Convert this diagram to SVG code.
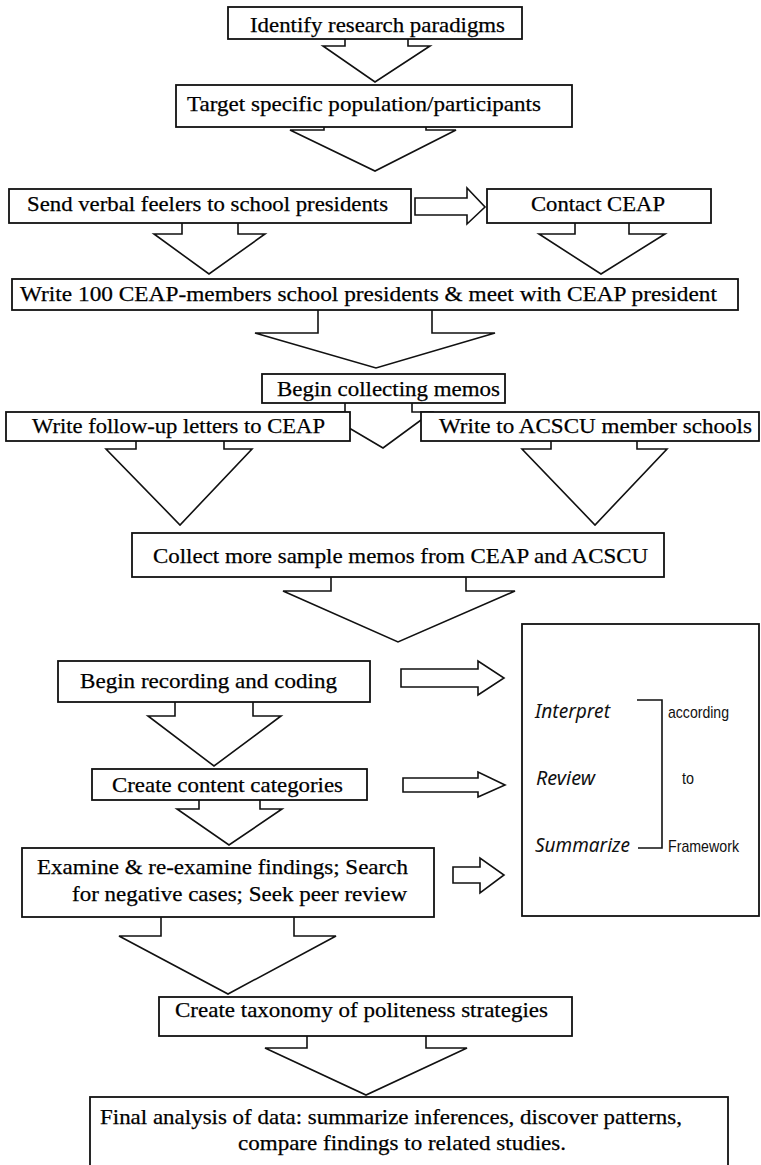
<svg xmlns="http://www.w3.org/2000/svg" width="761" height="1165" viewBox="0 0 761 1165">
<style>
.box{fill:#fff;stroke:#111;stroke-width:1.8}
.arr{fill:none;stroke:#111;stroke-width:1.6;stroke-linejoin:miter}
.t{font-family:"Liberation Serif","Times New Roman",serif;font-size:22px;fill:#000;stroke:#000;stroke-width:0.25}
.it{font-family:"Noto Sans","Liberation Sans",sans-serif;font-style:italic;font-size:19px;fill:#111}
.sn{font-family:"Liberation Sans",Arial,sans-serif;font-size:17px;fill:#111}
</style>
<rect width="761" height="1165" fill="#fff"/>
<g id="connectors">
<path class="arr" d="M345,39 V46 H323 L375,82 L430,46 H408 V39"/>
<path class="arr" d="M324,127 V130 H290 L375,171 L456,130 H426 V127"/>
<path class="arr" d="M415,198 H467 V188 L485,207 L467,224 V215 H415 Z"/>
<path class="arr" d="M182,223 V234 H154 L209,274 L265,234 H238 V223"/>
<path class="arr" d="M575,223 V234 H539 L601,274 L665,234 H629 V223"/>
<path class="arr" d="M318,310 V333 H255 L376,368 L495,333 H432 V310"/>
<path class="arr" d="M345,403 V412 H322 L383,448 L432,412 H412 V403"/>
<path class="arr" d="M136,441 V449 H106 L180,525 L252,449 H224 V441"/>
<path class="arr" d="M551,441 V449 H522 L595,525 L667,449 H637 V441"/>
<path class="arr" d="M331,577 V591 H283 L398,642 L515,591 H466 V577"/>
<path class="arr" d="M401,669 H478 V661 L504,678 L478,695 V687 H401 Z"/>
<path class="arr" d="M175,702 V716 H148 L214,766 L281,716 H253 V702"/>
<path class="arr" d="M403,778 H478 V772 L505,785 L478,797 V792 H403 Z"/>
<path class="arr" d="M199,800 V809 H177 L229,845 L282,809 H260 V800"/>
<path class="arr" d="M453,867 H480 V858 L504,875 L480,893 V883 H453 Z"/>
<path class="arr" d="M161,917 V936 H119 L228,994 L336,936 H294 V917"/>
<path class="arr" d="M307,1036 V1048 H265 L366,1095 L467,1048 H426 V1036"/>
</g>
<g id="n1"><rect class="box" x="228" y="7" width="294" height="32"/><text class="t" x="250" y="32" font-size="23" textLength="255" lengthAdjust="spacingAndGlyphs">Identify research paradigms</text></g>
<g id="n2"><rect class="box" x="176" y="85" width="396" height="42"/><text class="t" x="187" y="111" textLength="354" lengthAdjust="spacingAndGlyphs">Target specific population/participants</text></g>
<g id="n3"><rect class="box" x="9" y="189" width="402" height="34"/><text class="t" x="27" y="211" textLength="361" lengthAdjust="spacingAndGlyphs">Send verbal feelers to school presidents</text></g>
<g id="n4"><rect class="box" x="487" y="189" width="224" height="34"/><text class="t" x="531" y="211" textLength="134" lengthAdjust="spacingAndGlyphs">Contact CEAP</text></g>
<g id="n5"><rect class="box" x="12" y="279" width="726" height="31"/><text class="t" x="20" y="301" textLength="697" lengthAdjust="spacingAndGlyphs">Write 100 CEAP-members school presidents &amp; meet with CEAP president</text></g>
<g id="n6"><rect class="box" x="262" y="374" width="243" height="29"/><text class="t" x="277" y="396" textLength="223" lengthAdjust="spacingAndGlyphs">Begin collecting memos</text></g>
<g id="n7"><rect class="box" x="6" y="412" width="344" height="29"/><text class="t" x="32" y="433" textLength="293" lengthAdjust="spacingAndGlyphs">Write follow-up letters to CEAP</text></g>
<g id="n8"><rect class="box" x="421" y="412" width="338" height="29"/><text class="t" x="439" y="433" textLength="313" lengthAdjust="spacingAndGlyphs">Write to ACSCU member schools</text></g>
<g id="n9"><rect class="box" x="132" y="533" width="532" height="44"/><text class="t" x="153" y="563" textLength="495" lengthAdjust="spacingAndGlyphs">Collect more sample memos from CEAP and ACSCU</text></g>
<g id="n10"><rect class="box" x="58" y="661" width="312" height="41"/><text class="t" x="80" y="688" font-size="23" textLength="257" lengthAdjust="spacingAndGlyphs">Begin recording and coding</text></g>
<g id="n11"><rect class="box" x="92" y="769" width="275" height="31"/><text class="t" x="112" y="792" font-size="23" textLength="231" lengthAdjust="spacingAndGlyphs">Create content categories</text></g>
<g id="n12"><rect class="box" x="22" y="848" width="412" height="69"/><text class="t" x="37" y="874" textLength="371" lengthAdjust="spacingAndGlyphs">Examine &amp; re-examine findings; Search</text><text class="t" x="72" y="901" textLength="335" lengthAdjust="spacingAndGlyphs">for negative cases; Seek peer review</text></g>
<g id="n13"><rect class="box" x="522" y="624" width="237" height="292"/>
<text class="it" x="535" y="718" textLength="75" lengthAdjust="spacingAndGlyphs">Interpret</text>
<text class="it" x="536" y="785" textLength="59" lengthAdjust="spacingAndGlyphs">Review</text>
<text class="it" x="535" y="852" textLength="95" lengthAdjust="spacingAndGlyphs">Summarize</text>
<path d="M637,700 H662 V848 H638" fill="none" stroke="#111" stroke-width="1.6"/>
<text class="sn" x="668" y="718" textLength="61" lengthAdjust="spacingAndGlyphs">according</text>
<text class="sn" x="682" y="784" textLength="12" lengthAdjust="spacingAndGlyphs">to</text>
<text class="sn" x="668" y="852" textLength="71" lengthAdjust="spacingAndGlyphs">Framework</text>
</g>
<g id="n14"><rect class="box" x="159" y="997" width="413" height="39"/><text class="t" x="175" y="1017" textLength="373" lengthAdjust="spacingAndGlyphs">Create taxonomy of politeness strategies</text></g>
<g id="n15"><rect class="box" x="90" y="1097" width="638" height="80"/><text class="t" x="100" y="1124" textLength="582" lengthAdjust="spacingAndGlyphs">Final analysis of data: summarize inferences, discover patterns,</text><text class="t" x="238" y="1150" textLength="328" lengthAdjust="spacingAndGlyphs">compare findings to related studies.</text></g>
</svg>
